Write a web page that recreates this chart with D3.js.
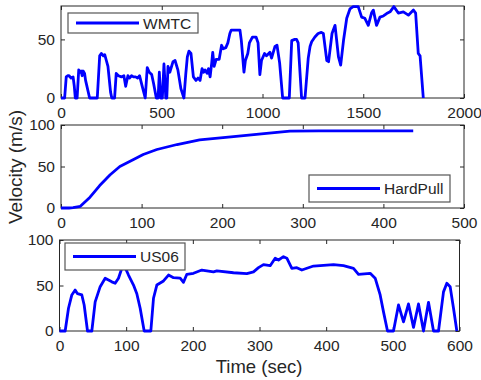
<!DOCTYPE html>
<html>
<head>
<meta charset="utf-8">
<script src="https://cdn.jsdelivr.net/npm/d3@7"></script>
<style>
  body { margin: 0; background: #fff; }
  text { font-family: Arial, "Liberation Sans", Helvetica, sans-serif; fill: #262626; }
</style>
</head>
<body>
<div id="chart"></div>
<script>
// WMTC cycle (time s, velocity)
const wmtcTime = [0, 18, 26, 33, 40, 50, 60, 66, 71, 80, 88, 95, 100, 105, 110, 117, 122, 126, 142, 180, 192, 200, 210, 217, 225, 233,
  246, 252, 266, 274, 285, 300, 312, 321, 332, 340, 350, 360, 370, 380, 390, 400, 418, 428, 438, 450, 460, 473, 482,
  488, 495, 503, 511, 520, 525, 531, 540, 556, 566, 580, 595, 610, 619, 627, 635, 645, 657, 670, 680, 690,
  700, 708, 715, 725, 732, 740, 748, 753, 760, 770, 785, 797, 805, 818, 828, 838, 845, 870, 888, 895, 908, 915,
  927, 935, 950, 968, 978, 987, 995, 1010, 1020, 1037, 1045, 1062, 1072, 1085, 1100, 1133, 1145, 1160, 1169, 1177, 1194,
  1211, 1227, 1236, 1244, 1260, 1276, 1292, 1302, 1319, 1328, 1345, 1360, 1377, 1388, 1402, 1418, 1434, 1450, 1475, 1492, 1508,
  1525, 1542, 1550, 1566, 1583, 1600, 1616, 1633, 1652, 1674, 1699, 1724, 1749, 1760, 1773, 1782, 1798];
const wmtcSpeed = [0, 0, 18, 19, 19, 17, 18, 10, 0, 0, 24, 22, 23, 19, 23, 21, 15, 12, 0, 0, 36, 38, 36, 37, 32, 27,
  5, 0, 0, 21, 19, 18, 19, 10, 19, 17, 19, 18, 18, 17, 19, 12, 0, 26, 22, 20, 12, 0, 0,
  22, 0, 0, 29, 0, 0, 27, 22, 31, 32, 24, 8, 0, 20, 35, 40, 38, 18, 15, 17, 15,
  25, 22, 24, 21, 25, 18, 30, 39, 27, 33, 33, 45, 42, 43, 47, 55, 58, 58, 58, 49, 22, 32,
  38, 47, 52, 52, 47, 20, 32, 38, 36, 39, 34, 44, 45, 30, 0, 0, 49, 50, 50, 47, 0,
  0, 34, 44, 48, 52, 55, 56, 55, 32, 31, 55, 62, 35, 28, 49, 68, 76, 78, 78, 69, 68,
  62, 73, 75, 62, 69, 70, 72, 73.5, 78, 72.5, 73.5, 70.7, 75, 72.5, 38, 36, 0];

// HardPull
const hardTime = [0, 10, 15, 24, 36, 48, 61, 73, 90, 102, 119, 144, 172, 214, 255, 284, 320, 380, 437];
const hardSpeed = [0, 0, 0.5, 2, 13, 27, 40, 50, 58.5, 64.5, 70.5, 76.5, 82, 86, 90, 92.5, 93, 93, 93];

// US06
const usTime = [0, 8.5, 13.5, 18.5, 23.5, 27, 33.5, 37, 42, 48.5, 53.5, 61, 68.5, 78.5, 83.5, 88.5, 93.5, 98.5, 103.5, 111,
  116, 121, 127, 137, 141, 146, 156, 163.5, 171, 181, 186, 191, 201, 213.5, 231, 236, 261, 281, 291, 298.5,
  306, 316, 323.5, 328.5, 336, 341, 348.5, 356, 363.5, 381, 411, 426, 441, 448.5, 466, 473.5, 481, 486, 492, 501,
  508.5, 516, 523.5, 531, 538.5, 546, 553.5, 561, 568.5, 576, 581, 586, 591, 596];
const usSpeed = [0, 0, 25, 39.6, 45, 41, 39.6, 28.6, 0, 0, 32, 48.7, 57.9, 54, 52.4, 58, 68.9, 69.6, 61.5, 50.5,
  41, 25, 0, 0, 36, 50.5, 55, 61.5, 58.6, 58, 53.5, 62.3, 63.4, 67, 65, 66, 64, 63, 65, 69.6,
  73, 71.8, 80, 78, 81.7, 80, 68.9, 69.6, 67, 71.4, 73, 71.8, 68.9, 62.3, 63.4, 58, 39.6, 21, 0, 0,
  28.6, 10, 29.7, 4, 29.7, 0, 31.5, 0, 0, 43, 52.4, 48.7, 25, 0];

const panels = [
  { name: 'WMTC', t: wmtcTime, v: wmtcSpeed, left: 61, right: 464, top: 6, bottom: 98,
    xMax: 2000, yMax: 78.5, xTicks: [0, 500, 1000, 1500, 2000], yTicks: [0, 50],
    legend: { x: 68, y: 13, w: 130, h: 20 } },
  { name: 'HardPull', t: hardTime, v: hardSpeed, left: 61, right: 464, top: 125, bottom: 208,
    xMax: 500, yMax: 100, xTicks: [0, 100, 200, 300, 400, 500], yTicks: [0, 50, 100],
    legend: { x: 309, y: 175, w: 141, h: 27 } },
  { name: 'US06', t: usTime, v: usSpeed, left: 59.5, right: 459.5, top: 240, bottom: 331,
    xMax: 600, yMax: 100, xTicks: [0, 100, 200, 300, 400, 500, 600], yTicks: [0, 50, 100],
    legend: { x: 65, y: 243, w: 120, h: 27 } }
];

const W = 481, H = 380;
const svg = d3.select('#chart').append('svg')
  .attr('width', W).attr('height', H)
  .style('background', '#fff');

const fmt = d3.format('d');

panels.forEach(p => {
  const x = d3.scaleLinear().domain([0, p.xMax]).range([p.left, p.right]);
  const y = d3.scaleLinear().domain([0, p.yMax]).range([p.bottom, p.top]);
  const g = svg.append('g');

  const styleAxis = sel => {
    sel.select('.domain').remove();
    sel.selectAll('line').attr('stroke', '#262626').attr('stroke-width', 1);
    sel.selectAll('text').attr('font-size', 15.5).attr('fill', '#262626')
      .style('font-family', 'Arial, "Liberation Sans", sans-serif');
  };

  g.append('g').attr('transform', `translate(0,${p.bottom})`)
    .call(d3.axisBottom(x).tickValues(p.xTicks).tickFormat(fmt).tickSize(-4).tickPadding(9))
    .call(styleAxis);
  g.append('g').attr('transform', `translate(0,${p.top})`)
    .call(d3.axisTop(x).tickValues(p.xTicks).tickSize(-4).tickFormat(''))
    .call(styleAxis);
  g.append('g').attr('transform', `translate(${p.left},0)`)
    .call(d3.axisLeft(y).tickValues(p.yTicks).tickFormat(fmt).tickSize(-4).tickPadding(6))
    .call(styleAxis);
  g.append('g').attr('transform', `translate(${p.right},0)`)
    .call(d3.axisRight(y).tickValues(p.yTicks).tickSize(-4).tickFormat(''))
    .call(styleAxis);

  g.append('rect')
    .attr('x', p.left).attr('y', p.top)
    .attr('width', p.right - p.left).attr('height', p.bottom - p.top)
    .attr('fill', 'none').attr('stroke', '#262626').attr('stroke-width', 1);

  const line = d3.line().x((d, i) => x(p.t[i])).y(d => y(d));
  g.append('path').datum(p.v)
    .attr('d', line)
    .attr('fill', 'none')
    .attr('stroke', '#0000ff')
    .attr('stroke-width', 2.8)
    .attr('stroke-linejoin', 'round');

  const lg = g.append('g').attr('transform', `translate(${p.legend.x},${p.legend.y})`);
  lg.append('rect')
    .attr('width', p.legend.w).attr('height', p.legend.h)
    .attr('fill', '#fff').attr('stroke', '#555').attr('stroke-width', 1.2);
  lg.append('line')
    .attr('x1', 8).attr('x2', 71)
    .attr('y1', p.legend.h / 2).attr('y2', p.legend.h / 2)
    .attr('stroke', '#0000ff').attr('stroke-width', 2.8);
  lg.append('text')
    .attr('x', 75).attr('y', p.legend.h / 2).attr('dy', '0.36em')
    .attr('font-size', 15.5)
    .text(p.name);
});

svg.append('text')
  .attr('transform', 'translate(22,167) rotate(-90)')
  .attr('text-anchor', 'middle')
  .attr('font-size', 19)
  .text('Velocity (m/s)');

svg.append('text')
  .attr('x', 259).attr('y', 373)
  .attr('text-anchor', 'middle')
  .attr('font-size', 18.5)
  .text('Time (sec)');
</script>
</body>
</html>
